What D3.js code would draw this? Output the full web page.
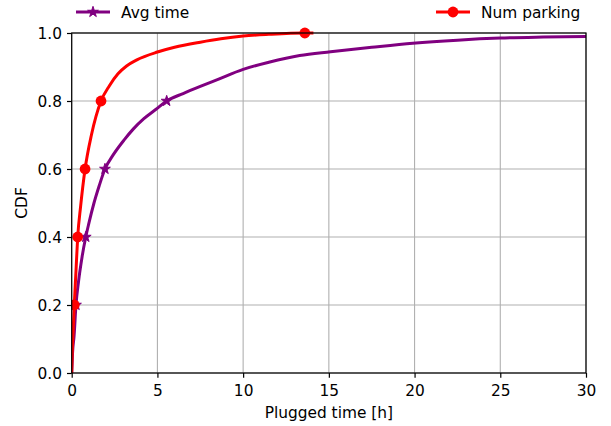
<!DOCTYPE html>
<html><head><meta charset="utf-8">
<script src="https://cdn.jsdelivr.net/npm/d3@7"></script>
<style>body{margin:0;background:#fff}svg{display:block;font-family:"DejaVu Sans",sans-serif}</style>
</head><body><svg id="c" width="611" height="426"></svg>
<script>
const xTicks=[0,5,10,15,20,25,30];
const yTicks=[0.0,0.2,0.4,0.6,0.8,1.0];
const seriesNames=["Avg time","Num parking"];
const avgTimeX=[0,0.05,0.14,0.25,0.4,0.6,0.82,1.0,1.3,1.6,1.94,2.4,3.05,3.6,4.21,4.9,5.54,6.5,7.5,8.5,10,11.5,13.3,15.1,17.5,19.9,22.5,25,27.5,30];
const avgTimeY=[0,0.06,0.11,0.2,0.27,0.34,0.4,0.44,0.5,0.55,0.6,0.64,0.685,0.718,0.748,0.775,0.8,0.822,0.843,0.863,0.893,0.914,0.934,0.945,0.958,0.97,0.979,0.985,0.988,0.99];
const avgTimeMarkX=[0.25,0.82,1.94,5.54];
const avgTimeMarkY=[0.2,0.4,0.6,0.8];
const numParkX=[0,0.03,0.08,0.15,0.25,0.35,0.52,0.78,1.15,1.71,2.2,2.7,3.2,3.8,5.0,6.0,7.5,8.7,10,11.5,13.6,14.1];
const numParkY=[0,0.06,0.12,0.2,0.3,0.4,0.49,0.6,0.7,0.8,0.845,0.88,0.903,0.921,0.944,0.958,0.973,0.983,0.991,0.996,1.0,1.0];
const numParkMarkX=[0.15,0.35,0.78,1.71,13.6];
const numParkMarkY=[0.2,0.4,0.6,0.8,1.0];

const L=71.7,R=586,T=33,B=373;
const FS=15.4;
const svg=d3.select("#c");
const x=d3.scaleLinear().domain([0,30]).range([L,R]);
const y=d3.scaleLinear().domain([0,1]).range([B,T]);
const purple="#800080", red="#ff0000";

const g=svg.append("g");
g.selectAll(".gx").data(xTicks).enter().append("line")
 .attr("x1",d=>x(d)).attr("x2",d=>x(d)).attr("y1",T).attr("y2",B)
 .attr("stroke","#b0b0b0").attr("stroke-width",1.1);
g.selectAll(".gy").data(yTicks).enter().append("line")
 .attr("y1",d=>y(d)).attr("y2",d=>y(d)).attr("x1",L).attr("x2",R)
 .attr("stroke","#b0b0b0").attr("stroke-width",1.1);

svg.append("clipPath").attr("id","cp").append("rect").attr("x",L).attr("y",T-8).attr("width",R-L).attr("height",B-T+16);
const line=d3.line().x(d=>x(d[0])).y(d=>y(d[1])).curve(d3.curveMonotoneX);
const plot=svg.append("g").attr("clip-path","url(#cp)");

const avg=avgTimeX.map((v,i)=>[v,avgTimeY[i]]);
const num=numParkX.map((v,i)=>[v,numParkY[i]]);
plot.append("path").datum(avg).attr("d",line).attr("fill","none").attr("stroke",purple).attr("stroke-width",3);
plot.append("path").datum(num).attr("d",line).attr("fill","none").attr("stroke",red).attr("stroke-width",3);

const star=d3.symbol().type(d3.symbolStar).size(36);
plot.selectAll(".st").data(avgTimeMarkX.map((v,i)=>[v,avgTimeMarkY[i]])).enter().append("path")
 .attr("d",star).attr("transform",d=>`translate(${x(d[0])},${y(d[1])})`).attr("fill",purple).attr("stroke",purple).attr("stroke-width",1);
plot.selectAll(".ci").data(numParkMarkX.map((v,i)=>[v,numParkMarkY[i]])).enter().append("circle")
 .attr("cx",d=>x(d[0])).attr("cy",d=>y(d[1])).attr("r",5.4).attr("fill",red);

svg.append("rect").attr("x",L).attr("y",T).attr("width",R-L).attr("height",B-T).attr("fill","none").attr("stroke","#000").attr("stroke-width",1.2);

const xa=svg.append("g").attr("transform",`translate(0,${B})`).call(d3.axisBottom(x).tickValues(xTicks).tickFormat(d3.format("d")).tickSize(4.7).tickPadding(5));
const ya=svg.append("g").attr("transform",`translate(${L},0)`).call(d3.axisLeft(y).tickValues(yTicks).tickFormat(d3.format(".1f")).tickSize(4.7).tickPadding(5));
[xa,ya].forEach(a=>{a.select(".domain").remove();a.selectAll("text").attr("font-size",FS).attr("fill","#000").attr("font-family","DejaVu Sans");a.selectAll("line").attr("stroke","#000").attr("stroke-width",1.2);});
xa.selectAll("text").attr("dy",null).attr("y",23);
ya.selectAll("text").attr("dy",null).attr("y",5.6);

svg.append("text").attr("x",(L+R)/2).attr("y",418).attr("text-anchor","middle").attr("font-size",FS).text("Plugged time [h]");
svg.append("text").attr("transform",`translate(26.5,${(T+B)/2}) rotate(-90)`).attr("text-anchor","middle").attr("font-size",FS).text("CDF");

const leg=[{name:seriesNames[0],color:purple,sym:"star",lx:76},{name:seriesNames[1],color:red,sym:"circle",lx:436}];
leg.forEach(l=>{
 const ly=12;
 svg.append("line").attr("x1",l.lx).attr("x2",l.lx+34).attr("y1",ly).attr("y2",ly).attr("stroke",l.color).attr("stroke-width",3);
 if(l.sym==="star") svg.append("path").attr("d",star).attr("transform",`translate(${l.lx+17},${ly})`).attr("fill",l.color).attr("stroke",l.color).attr("stroke-width",1);
 else svg.append("circle").attr("cx",l.lx+17).attr("cy",ly).attr("r",5.4).attr("fill",l.color);
 svg.append("text").attr("x",l.lx+45).attr("y",17.5).attr("font-size",FS).text(l.name);
});
</script></body></html>
